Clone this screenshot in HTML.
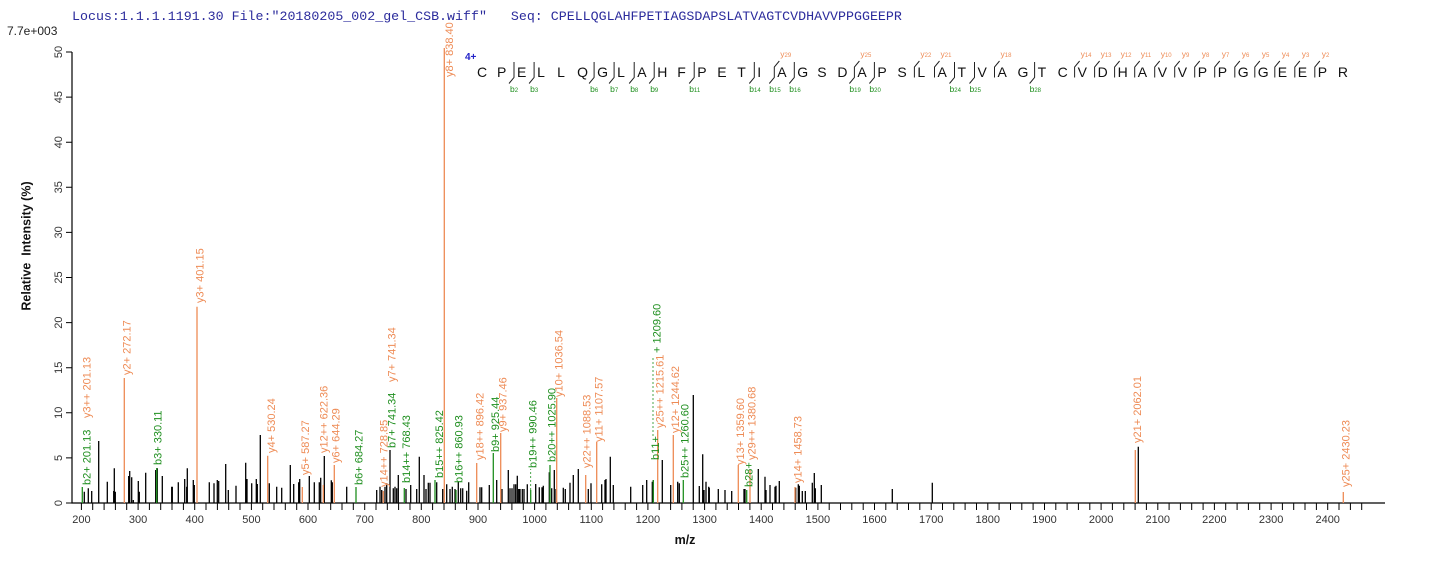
<!DOCTYPE html>
<html><head><meta charset="utf-8"><style>
html,body{margin:0;padding:0;background:#fff;}
svg{display:block;}
text{font-family:"Liberation Sans",Arial,sans-serif;}
</style></head><body>
<svg width="1436" height="562" viewBox="0 0 1436 562" xmlns="http://www.w3.org/2000/svg">
<rect width="1436" height="562" fill="#fff"/>
<text x="72" y="20" style="font-family:'Liberation Mono','Courier New',monospace" font-size="13.3" fill="#2b2b9c" xml:space="preserve">Locus:1.1.1.1191.30 File:&quot;20180205_002_gel_CSB.wiff&quot;   Seq: CPELLQGLAHFPETIAGSDAPSLATVAGTCVDHAVVPPGGEEPR</text>
<text x="7" y="35" font-size="12" fill="#222">7.7e+003</text>
<text transform="translate(30.5,246) rotate(-90)" text-anchor="middle" font-size="12.5" font-weight="bold" fill="#111" xml:space="preserve">Relative  Intensity (%)</text>
<text x="685" y="544" text-anchor="middle" font-size="12.5" font-weight="bold" fill="#111">m/z</text>

<!-- axes -->
<path d="M72 52V503H1385" stroke="#000" stroke-width="1.2" fill="none"/>
<path d="M66 503H72M66 457.9H72M66 412.8H72M66 367.7H72M66 322.6H72M66 277.5H72M66 232.4H72M66 187.3H72M66 142.2H72M66 97.1H72M66 52H72" stroke="#000" stroke-width="1"/>
<g font-size="11" fill="#333" text-anchor="middle">
<text transform="translate(62,503) rotate(-90)">0</text>
<text transform="translate(62,457.9) rotate(-90)">5</text>
<text transform="translate(62,412.8) rotate(-90)">10</text>
<text transform="translate(62,367.7) rotate(-90)">15</text>
<text transform="translate(62,322.6) rotate(-90)">20</text>
<text transform="translate(62,277.5) rotate(-90)">25</text>
<text transform="translate(62,232.4) rotate(-90)">30</text>
<text transform="translate(62,187.3) rotate(-90)">35</text>
<text transform="translate(62,142.2) rotate(-90)">40</text>
<text transform="translate(62,97.1) rotate(-90)">45</text>
<text transform="translate(62,52) rotate(-90)">50</text>
</g>
<path stroke="#000" stroke-width="1" d="M81.4 503V510M92.7 503V510M104.1 503V510M115.4 503V510M126.7 503V510M138.1 503V510M149.4 503V510M160.7 503V510M172 503V510M183.4 503V510M194.7 503V510M206 503V510M217.4 503V510M228.7 503V510M240 503V510M251.4 503V510M262.7 503V510M274 503V510M285.3 503V510M296.7 503V510M308 503V510M319.3 503V510M330.7 503V510M342 503V510M353.3 503V510M364.7 503V510M376 503V510M387.3 503V510M398.6 503V510M410 503V510M421.3 503V510M432.6 503V510M444 503V510M455.3 503V510M466.6 503V510M478 503V510M489.3 503V510M500.6 503V510M511.9 503V510M523.3 503V510M534.6 503V510M545.9 503V510M557.3 503V510M568.6 503V510M579.9 503V510M591.3 503V510M602.6 503V510M613.9 503V510M625.2 503V510M636.6 503V510M647.9 503V510M659.2 503V510M670.6 503V510M681.9 503V510M693.2 503V510M704.6 503V510M715.9 503V510M727.2 503V510M738.5 503V510M749.9 503V510M761.2 503V510M772.5 503V510M783.9 503V510M795.2 503V510M806.5 503V510M817.9 503V510M829.2 503V510M840.5 503V510M851.8 503V510M863.2 503V510M874.5 503V510M885.8 503V510M897.2 503V510M908.5 503V510M919.8 503V510M931.2 503V510M942.5 503V510M953.8 503V510M965.1 503V510M976.5 503V510M987.8 503V510M999.1 503V510M1010.5 503V510M1021.8 503V510M1033.1 503V510M1044.5 503V510M1055.8 503V510M1067.1 503V510M1078.4 503V510M1089.8 503V510M1101.1 503V510M1112.4 503V510M1123.8 503V510M1135.1 503V510M1146.4 503V510M1157.8 503V510M1169.1 503V510M1180.4 503V510M1191.7 503V510M1203.1 503V510M1214.4 503V510M1225.7 503V510M1237.1 503V510M1248.4 503V510M1259.7 503V510M1271.1 503V510M1282.4 503V510M1293.7 503V510M1305 503V510M1316.4 503V510M1327.7 503V510M1339 503V510M1350.4 503V510M1361.7 503V510"/>
<g font-size="11" fill="#333" text-anchor="middle">
<text x="81.4" y="523">200</text><text x="138.1" y="523">300</text><text x="194.7" y="523">400</text><text x="251.4" y="523">500</text><text x="308" y="523">600</text><text x="364.7" y="523">700</text><text x="421.3" y="523">800</text><text x="478" y="523">900</text><text x="534.6" y="523">1000</text><text x="591.3" y="523">1100</text><text x="647.9" y="523">1200</text><text x="704.6" y="523">1300</text><text x="761.2" y="523">1400</text><text x="817.9" y="523">1500</text><text x="874.5" y="523">1600</text><text x="931.2" y="523">1700</text><text x="987.8" y="523">1800</text><text x="1044.5" y="523">1900</text><text x="1101.1" y="523">2000</text><text x="1157.8" y="523">2100</text><text x="1214.4" y="523">2200</text><text x="1271.1" y="523">2300</text><text x="1327.7" y="523">2400</text>
</g>

<!-- black peaks -->
<path stroke="#000" stroke-width="1.3" fill="none" d="M84.3 503V491.7M88.3 503V488.3M91.7 503V491M98.7 503V441M107.3 503V481.7M113.7 503V491M114.3 503V468.3M115.3 503V491.7M128.7 503V476M129.7 503V471M131.7 503V477.3M133.3 503V500M138.3 503V481M139.3 503V491.7M145.7 503V472.7M155.7 503V470M157.3 503V468.3M162.3 503V476M171.7 503V486.7M172.3 503V486.7M178.3 503V482.3M184.7 503V479M186.7 503V486.7M187.3 503V468.3M193.3 503V480M194.3 503V485M209.3 503V482.3M214 503V483.3M217.3 503V480M218.7 503V481M225.7 503V464M228.3 503V490M236 503V485.7M245.7 503V462.7M247 503V479M251.7 503V483.3M256.3 503V479M257.3 503V484M260.3 503V435M269.3 503V483.3M276.7 503V486.7M281.7 503V487.7M290.3 503V465M293.7 503V484M298.7 503V482.3M299.7 503V479M309.3 503V476M314.3 503V482.3M319.3 503V482.3M320.7 503V477.7M324.3 503V456M331.3 503V480.3M332.3 503V482.3M346.7 503V486.7M376.7 503V490M380 503V486.7M381.7 503V490M385 503V486.7M386.7 503V483.3M390 503V450M393.3 503V488.3M395 503V486.7M396.7 503V488.3M398.3 503V475M406 503V489M410.7 503V485M416.7 503V489M419.3 503V456.7M426 503V489M428.3 503V482.7M424 503V475M430 503V482.7M436.7 503V482.3M442.7 503V489M446.7 503V484.3M450 503V489M452.3 503V486.7M455 503V489M458.3 503V481.7M460.7 503V488.3M462.7 503V488.3M466.7 503V490.7M468.7 503V482.3M480 503V487.3M481.7 503V487.3M489.3 503V485M496.7 503V480M502 503V489M508.3 503V470M510 503V488.3M512 503V488.3M514 503V484.3M515.7 503V484.3M517.3 503V475.7M518.7 503V489M520 503V489M522.3 503V489M524 503V489M527.3 503V484.3M535.7 503V484M539.3 503V487.3M542 503V487.3M543.3 503V485.7M549.3 503V472.3M551.7 503V488.3M554.3 503V470M556 503V489M563.3 503V487.7M565.3 503V489M570 503V482.7M573.3 503V475M578.3 503V469M588.3 503V489M591 503V483.3M601.7 503V484.3M605 503V480M606 503V479M610.3 503V456.7M613.3 503V485M630.7 503V486.7M642.7 503V485M646.7 503V480M652.3 503V481.7M653.3 503V480M662.3 503V460M670.7 503V485M677.7 503V481.7M679.3 503V483.3M693.3 503V395M699.3 503V486M702.7 503V454.3M704 503V490M706 503V481.7M708.7 503V486.7M709.3 503V487.7M718.3 503V489M725 503V490M731.7 503V491M744 503V489M745 503V489M758.3 503V469M765 503V476.7M766 503V490M770 503V485M775 503V486.7M779.3 503V481M776 503V485.7M795.7 503V487.7M798.3 503V484.3M799.3 503V485.7M802.3 503V491M805.3 503V491M812.3 503V482.7M814.3 503V473M815.3 503V488.3M821.3 503V485M892.3 503V489M932.3 503V482.7M1138.3 503V446.7"/>

<!-- annotated peaks -->
<path stroke="#ee8b55" stroke-width="1.3" fill="none" d="M124.3 503V378M197 503V306.7M267.7 503V455.7M302.3 503V487M323.3 503V485M334.3 503V465M383.3 503V491M444.3 503V48M476.7 503V463M500.7 503V433M556.7 503V398M585.7 503V475M596.7 503V442M657.7 503V430M673.3 503V435M738.3 503V465M750 503V470M795 503V487M1135.3 503V450M1343.3 503V492"/>
<path stroke="#1f8f1f" stroke-width="1.3" fill="none" d="M82.3 503V487M156.7 503V468M356 503V487M404.3 503V488M435 503V480M456 503V490M493.3 503V453M530.7 503V490M550 503V465M653.3 503V480M683.3 503V480M746.7 503V490"/>
<path stroke="#1f8f1f" stroke-width="0.8" stroke-dasharray="2,2" fill="none" d="M653 436V358M530.7 490V469"/>

<!-- peak labels -->
<g font-size="11">
<text transform="translate(90.7,485) rotate(-90)" fill="#1f8f1f">b2+ 201.13</text>
<text transform="translate(90.7,418) rotate(-90)" fill="#ee8b55">y3++ 201.13</text>
<text transform="translate(130.7,375) rotate(-90)" fill="#ee8b55">y2+ 272.17</text>
<text transform="translate(161.3,465) rotate(-90)" fill="#1f8f1f">b3+ 330.11</text>
<text transform="translate(203.5,303) rotate(-90)" fill="#ee8b55">y3+ 401.15</text>
<text transform="translate(275,453) rotate(-90)" fill="#ee8b55">y4+ 530.24</text>
<text transform="translate(309,475) rotate(-90)" fill="#ee8b55">y5+ 587.27</text>
<text transform="translate(327.3,453) rotate(-90)" fill="#ee8b55">y12++ 622.36</text>
<text transform="translate(339.7,463) rotate(-90)" fill="#ee8b55">y6+ 644.29</text>
<text transform="translate(362.3,485) rotate(-90)" fill="#1f8f1f">b6+ 684.27</text>
<text transform="translate(387.3,487) rotate(-90)" fill="#ee8b55">y14++ 728.85</text>
<text transform="translate(395.7,448) rotate(-90)" fill="#1f8f1f">b7+ 741.34</text>
<text transform="translate(395.7,382) rotate(-90)" fill="#ee8b55">y7+ 741.34</text>
<text transform="translate(410,483) rotate(-90)" fill="#1f8f1f">b14++ 768.43</text>
<text transform="translate(453,77) rotate(-90)" fill="#ee8b55">y8+ 838.40</text>
<text transform="translate(443,478) rotate(-90)" fill="#1f8f1f">b15++ 825.42</text>
<text transform="translate(462.3,483) rotate(-90)" fill="#1f8f1f">b16++ 860.93</text>
<text transform="translate(483.3,460) rotate(-90)" fill="#ee8b55">y18++ 896.42</text>
<text transform="translate(499,452) rotate(-90)" fill="#1f8f1f">b9+ 925.44</text>
<text transform="translate(506.7,432) rotate(-90)" fill="#ee8b55">y9+ 937.46</text>
<text transform="translate(536.7,468) rotate(-90)" fill="#1f8f1f">b19++ 990.46</text>
<text transform="translate(555.7,462) rotate(-90)" fill="#1f8f1f">b20++ 1025.90</text>
<text transform="translate(562.3,397) rotate(-90)" fill="#ee8b55">y10+ 1036.54</text>
<text transform="translate(590.7,468) rotate(-90)" fill="#ee8b55">y22++ 1088.53</text>
<text transform="translate(602.3,442) rotate(-90)" fill="#ee8b55">y11+ 1107.57</text>
<text transform="translate(659,460) rotate(-90)" fill="#1f8f1f">b11+</text>
<text transform="translate(660.7,353) rotate(-90)" fill="#1f8f1f">+ 1209.60</text>
<text transform="translate(663.3,428) rotate(-90)" fill="#ee8b55">y25++ 1215.61</text>
<text transform="translate(679,433) rotate(-90)" fill="#ee8b55">y12+ 1244.62</text>
<text transform="translate(688.3,478) rotate(-90)" fill="#1f8f1f">b25++ 1260.60</text>
<text transform="translate(744,465) rotate(-90)" fill="#ee8b55">y13+ 1359.60</text>
<text transform="translate(752.3,487) rotate(-90)" fill="#1f8f1f">b28+</text>
<text transform="translate(755.7,460) rotate(-90)" fill="#ee8b55">y29++ 1380.68</text>
<text transform="translate(801.3,483) rotate(-90)" fill="#ee8b55">y14+ 1458.73</text>
<text transform="translate(1141,443) rotate(-90)" fill="#ee8b55">y21+ 2062.01</text>
<text transform="translate(1349.7,487) rotate(-90)" fill="#ee8b55">y25+ 2430.23</text>
</g>

<!-- sequence -->
<text x="465" y="60" font-size="10" font-weight="bold" fill="#2323c8">4+</text>
<g font-size="14" fill="#111">
<text x="477" y="77">C</text><text x="497" y="77">P</text><text x="517" y="77">E</text><text x="537.1" y="77">L</text><text x="557.1" y="77">L</text><text x="577.1" y="77">Q</text><text x="597.1" y="77">G</text><text x="617.1" y="77">L</text><text x="637.2" y="77">A</text><text x="657.2" y="77">H</text><text x="677.2" y="77">F</text><text x="697.2" y="77">P</text><text x="717.2" y="77">E</text><text x="737.3" y="77">T</text><text x="757.3" y="77">I</text><text x="777.3" y="77">A</text><text x="797.3" y="77">G</text><text x="817.3" y="77">S</text><text x="837.4" y="77">D</text><text x="857.4" y="77">A</text><text x="877.4" y="77">P</text><text x="897.4" y="77">S</text><text x="917.4" y="77">L</text><text x="937.5" y="77">A</text><text x="957.5" y="77">T</text><text x="977.5" y="77">V</text><text x="997.5" y="77">A</text><text x="1017.5" y="77">G</text><text x="1037.6" y="77">T</text><text x="1057.6" y="77">C</text><text x="1077.6" y="77">V</text><text x="1097.6" y="77">D</text><text x="1117.6" y="77">H</text><text x="1137.7" y="77">A</text><text x="1157.7" y="77">V</text><text x="1177.7" y="77">V</text><text x="1197.7" y="77">P</text><text x="1217.7" y="77">P</text><text x="1237.8" y="77">G</text><text x="1257.8" y="77">G</text><text x="1277.8" y="77">E</text><text x="1297.8" y="77">E</text><text x="1317.8" y="77">P</text><text x="1337.9" y="77">R</text>
</g>
<path stroke="#222" stroke-width="1" fill="none" d="M514 62V77.5L509 83.5M534.1 62V77.5L529.1 83.5M594.1 62V77.5L589.1 83.5M614.1 62V77.5L609.1 83.5M634.2 62V77.5L629.2 83.5M654.2 62V77.5L649.2 83.5M694.2 62V77.5L689.2 83.5M754.3 62V77.5L749.3 83.5M794.3 62V77.5L789.3 83.5M874.4 62V77.5L869.4 83.5M954.5 62V77.5L949.5 83.5M974.5 62V77.5L969.5 83.5M1034.6 62V77.5L1029.6 83.5M779.3 61L774.3 67V77.5L769.3 83.5M859.4 61L854.4 67V77.5L849.4 83.5M914.4 77.5V67L919.4 61M934.5 77.5V67L939.5 61M994.5 77.5V67L999.5 61M1074.6 77.5V67L1079.6 61M1094.6 77.5V67L1099.6 61M1114.6 77.5V67L1119.6 61M1134.7 77.5V67L1139.7 61M1154.7 77.5V67L1159.7 61M1174.7 77.5V67L1179.7 61M1194.7 77.5V67L1199.7 61M1214.7 77.5V67L1219.7 61M1234.8 77.5V67L1239.8 61M1254.8 77.5V67L1259.8 61M1274.8 77.5V67L1279.8 61M1294.8 77.5V67L1299.8 61M1314.8 77.5V67L1319.8 61"/>
<g font-size="8.5" fill="#1f8f1f">
<text x="510" y="92">b<tspan font-size="6">2</tspan></text>
<text x="530.1" y="92">b<tspan font-size="6">3</tspan></text>
<text x="590.1" y="92">b<tspan font-size="6">6</tspan></text>
<text x="610.1" y="92">b<tspan font-size="6">7</tspan></text>
<text x="630.2" y="92">b<tspan font-size="6">8</tspan></text>
<text x="650.2" y="92">b<tspan font-size="6">9</tspan></text>
<text x="689.2" y="92">b<tspan font-size="6">11</tspan></text>
<text x="749.3" y="92">b<tspan font-size="6">14</tspan></text>
<text x="769.3" y="92">b<tspan font-size="6">15</tspan></text>
<text x="789.3" y="92">b<tspan font-size="6">16</tspan></text>
<text x="849.4" y="92">b<tspan font-size="6">19</tspan></text>
<text x="869.4" y="92">b<tspan font-size="6">20</tspan></text>
<text x="949.5" y="92">b<tspan font-size="6">24</tspan></text>
<text x="969.5" y="92">b<tspan font-size="6">25</tspan></text>
<text x="1029.6" y="92">b<tspan font-size="6">28</tspan></text>
</g>
<g font-size="8.5" fill="#ee8b55">
<text x="780.3" y="57">y<tspan font-size="6">29</tspan></text>
<text x="860.4" y="57">y<tspan font-size="6">25</tspan></text>
<text x="920.4" y="57">y<tspan font-size="6">22</tspan></text>
<text x="940.5" y="57">y<tspan font-size="6">21</tspan></text>
<text x="1000.5" y="57">y<tspan font-size="6">18</tspan></text>
<text x="1080.6" y="57">y<tspan font-size="6">14</tspan></text>
<text x="1100.6" y="57">y<tspan font-size="6">13</tspan></text>
<text x="1120.6" y="57">y<tspan font-size="6">12</tspan></text>
<text x="1140.7" y="57">y<tspan font-size="6">11</tspan></text>
<text x="1160.7" y="57">y<tspan font-size="6">10</tspan></text>
<text x="1181.7" y="57">y<tspan font-size="6">9</tspan></text>
<text x="1201.7" y="57">y<tspan font-size="6">8</tspan></text>
<text x="1221.7" y="57">y<tspan font-size="6">7</tspan></text>
<text x="1241.8" y="57">y<tspan font-size="6">6</tspan></text>
<text x="1261.8" y="57">y<tspan font-size="6">5</tspan></text>
<text x="1281.8" y="57">y<tspan font-size="6">4</tspan></text>
<text x="1301.8" y="57">y<tspan font-size="6">3</tspan></text>
<text x="1321.8" y="57">y<tspan font-size="6">2</tspan></text>
</g>
</svg>
</body></html>
